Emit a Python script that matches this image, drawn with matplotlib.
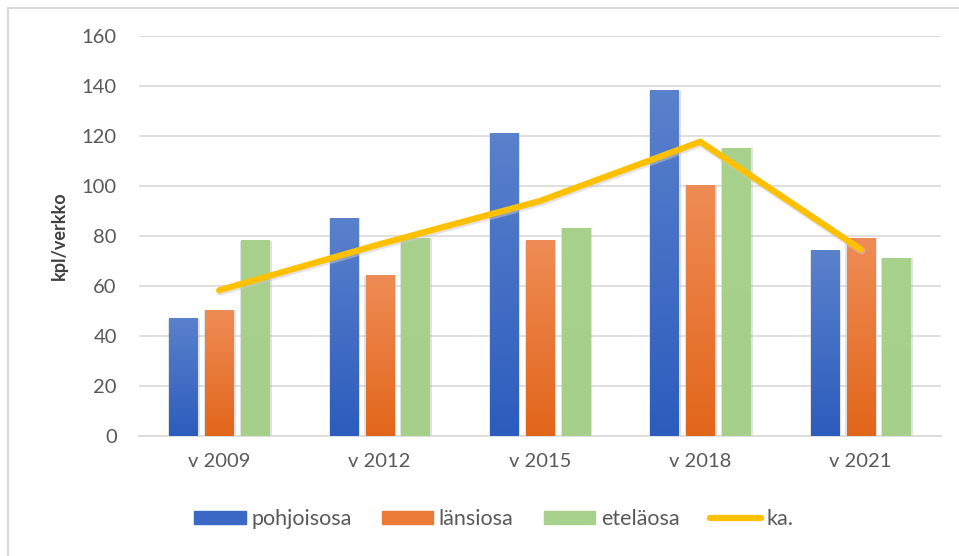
import numpy as np
import matplotlib
matplotlib.use("Agg")
import matplotlib.pyplot as plt
from matplotlib.colors import LinearSegmentedColormap
from matplotlib.patches import Rectangle
from matplotlib.lines import Line2D

plt.rcParams['font.family'] = ['Lato', 'DejaVu Sans']

# data
years = ["v 2009", "v 2012", "v 2015", "v 2018", "v 2021"]
pohjoisosa = [47, 87, 121, 138, 74]
lansiosa = [50, 64, 78, 100, 79]
etelaosa = [78, 79, 83, 115, 71]
ka = [58.3, 76.7, 94, 117.7, 74.7]

series = [
    ("pohjoisosa", pohjoisosa, "#2c5cbd", "#5a81cc"),
    ("länsiosa", lansiosa, "#e2661a", "#ef8c55"),
    ("eteläosa", etelaosa, "#a6cf8b", "#a9d18e"),
]

fig = plt.figure(figsize=(9.59, 5.56), dpi=100)
ax = fig.add_axes([0.145, 0.2158, 0.836, 0.7195])

# outer frame of the chart
fig.patches.append(Rectangle((8 / 959, -0.01), 1.0, 1 - 8 / 556 + 0.01,
                             transform=fig.transFigure, fill=False,
                             edgecolor="#d9d9d9", linewidth=1.5))

x = np.arange(len(years))
w = 0.175
step = 0.224

for i, (name, vals, c_bot, c_top) in enumerate(series):
    cmap = LinearSegmentedColormap.from_list(name, [c_bot, c_top])
    xs = x + (i - 1) * step
    # soft shadow
    ax.bar(xs + 0.004, vals, w + 0.022, color="#bfbfbf", alpha=0.45, zorder=2, linewidth=0)
    bars = ax.bar(xs, vals, w, color=c_top, zorder=3, linewidth=0)
    grad = np.linspace(0, 1, 256).reshape(-1, 1)
    for b in bars:
        x0, y0 = b.get_x(), b.get_y()
        ax.imshow(grad, cmap=cmap, origin="lower", aspect="auto", zorder=3.5,
                  extent=(x0, x0 + b.get_width(), y0, y0 + b.get_height()))

ax.plot(x, ka, color="#c9c9c9", linewidth=5.5, alpha=0.5, zorder=4,
        solid_capstyle="round", solid_joinstyle="round",
        transform=ax.transData + matplotlib.transforms.ScaledTranslation(1 / 100, -1.5 / 100, fig.dpi_scale_trans))
ax.plot(x, ka, color="#ffc000", linewidth=4.5, zorder=5,
        solid_capstyle="round", solid_joinstyle="round")

ax.set_xlim(-0.5, 4.5)
ax.set_ylim(0, 160)
ax.set_yticks(range(0, 161, 20))
ax.set_xticks(x)
ax.set_xticklabels(years)
ax.grid(axis="y", color="#d9d9d9", linewidth=1.2, zorder=0)
ax.set_axisbelow(True)
for s in ["top", "right", "left"]:
    ax.spines[s].set_visible(False)
ax.spines["bottom"].set_color("#d9d9d9")
ax.spines["bottom"].set_linewidth(1.2)
ax.tick_params(length=0, labelsize=14.5, colors="#595959", pad=12)
ax.tick_params(axis="y", pad=16)
ax.set_ylabel("kpl/verkko", fontsize=13, fontweight="bold", color="#404040", labelpad=10)

handles = [Rectangle((0, 0), 1, 1, color="#3b68c4"),
           Rectangle((0, 0), 1, 1, color="#ea7a35"),
           Rectangle((0, 0), 1, 1, color="#a9d18e"),
           Line2D([0], [0], color="#ffc000", linewidth=4.5, solid_capstyle="round")]
labels = [s[0] for s in series] + ["ka."]
fig.legend(handles, labels, loc="center", bbox_to_anchor=(0.515, 0.066), ncol=4,
           frameon=False, fontsize=15.5, labelcolor="#595959",
           handlelength=2.4, handleheight=0.55, handletextpad=0.25, columnspacing=1.4)

fig.savefig("out.png", dpi=100)
